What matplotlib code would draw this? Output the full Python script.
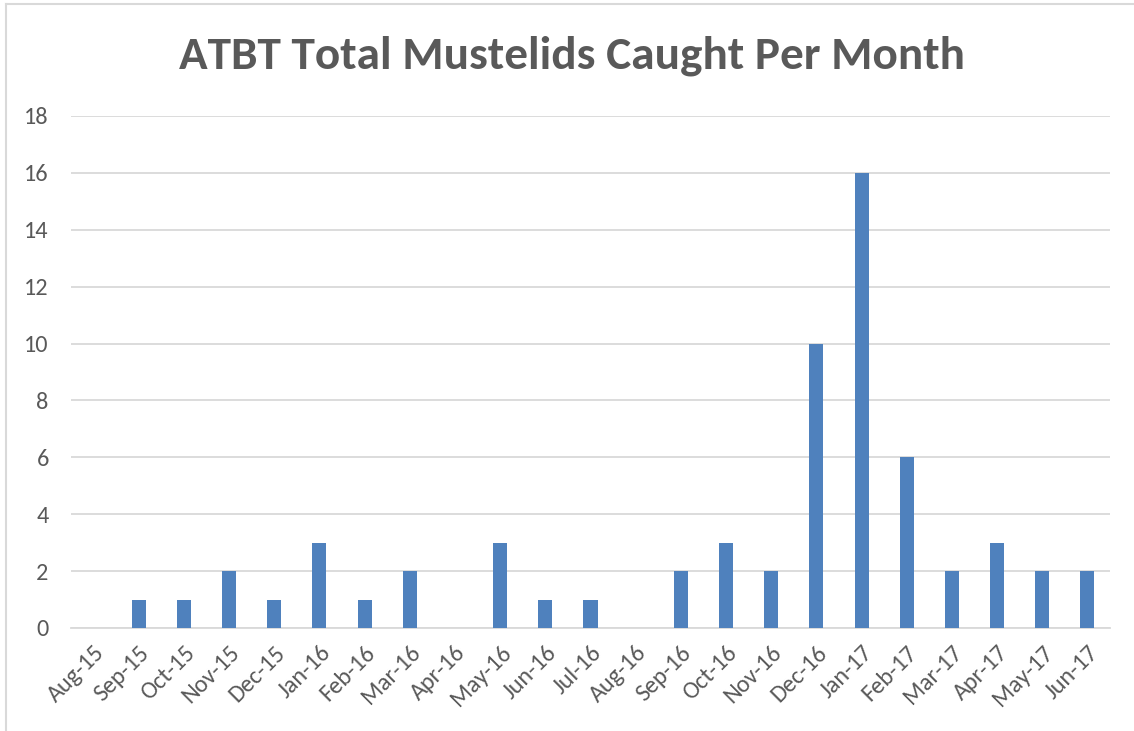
import matplotlib
matplotlib.use("Agg")
import matplotlib.pyplot as plt
from matplotlib.lines import Line2D
from matplotlib import font_manager

names = {f.name for f in font_manager.fontManager.ttflist}
fam = "Carlito" if "Carlito" in names else "Lato"
plt.rcParams['font.family'] = [fam, 'DejaVu Sans']

months = ["Aug-15", "Sep-15", "Oct-15", "Nov-15", "Dec-15", "Jan-16", "Feb-16",
          "Mar-16", "Apr-16", "May-16", "Jun-16", "Jul-16", "Aug-16", "Sep-16",
          "Oct-16", "Nov-16", "Dec-16", "Jan-17", "Feb-17", "Mar-17", "Apr-17",
          "May-17", "Jun-17"]
caught = [0, 1, 1, 2, 1, 3, 1, 2, 0, 3, 1, 1, 0, 2, 3, 2, 10, 16, 6, 2, 3, 2, 2]
yticks = [0, 2, 4, 6, 8, 10, 12, 14, 16, 18]
title = "ATBT Total Mustelids Caught Per Month"

W, H = 1134, 731
fig = plt.figure(figsize=(W / 100, H / 100), dpi=100)
ax = fig.add_axes([71 / W, 1 - 628 / H, (1110 - 71) / W, (628 - 116) / H])

x = list(range(len(months)))
ax.bar(x, caught, width=0.31, color="#4F81BD", zorder=3)
ax.set_xlim(-0.5, len(months) - 0.5)
ax.set_ylim(0, 18)
ax.set_yticks(yticks)
ax.set_yticklabels([str(v) for v in yticks])
ax.yaxis.grid(True, color="#D9D9D9", linewidth=1.3, zorder=0)
ax.set_axisbelow(True)
for s in ["top", "right", "left"]:
    ax.spines[s].set_visible(False)
ax.spines["bottom"].set_color("#D9D9D9")
ax.spines["bottom"].set_linewidth(1.3)
ax.tick_params(axis="y", length=0, pad=16, labelsize=17.5, labelcolor="#595959")
ax.tick_params(axis="x", length=0, pad=10, labelsize=17.5, labelcolor="#595959")
ax.set_xticks(x)
ax.set_xticklabels(months, rotation=45, ha="right", rotation_mode="anchor")

fig.text(572 / W, 1 - 56 / H, title, ha="center", va="center",
         fontsize=34, fontweight="bold", color="#595959")

fig.add_artist(Line2D([6 / W, 6 / W], [0, 1 - 4 / H], transform=fig.transFigure,
                      color="#D9D9D9", linewidth=1.5))
fig.add_artist(Line2D([6 / W, 1], [1 - 4 / H, 1 - 4 / H], transform=fig.transFigure,
                      color="#D9D9D9", linewidth=1.5))

fig.savefig("out.png", dpi=100, facecolor="white")
